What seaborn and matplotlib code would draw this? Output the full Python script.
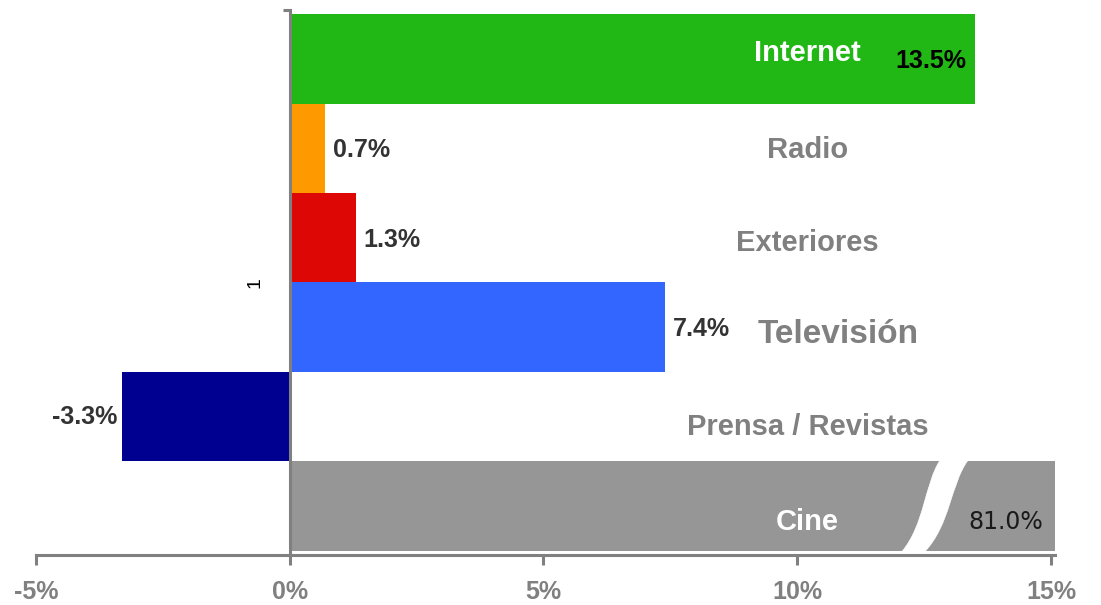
import matplotlib
matplotlib.use("Agg")
import matplotlib.pyplot as plt
from matplotlib.path import Path
from matplotlib.patches import PathPatch
import seaborn as sns

# Growth of advertising investment by medium (%)
categories = ["Internet", "Radio", "Exteriores", "Televisión", "Prensa / Revistas", "Cine"]
growth = [13.5, 0.7, 1.3, 7.4, -3.3, 81.0]
value_labels = ["13.5%", "0.7%", "1.3%", "7.4%", "-3.3%", "81.0%"]
bar_colors = ["#21B714", "#FF9900", "#DD0806", "#3366FF", "#000090", "#969696"]
x_ticks = [-5, 0, 5, 10, 15]
x_tick_labels = ["-5%", "0%", "5%", "10%", "15%"]

sns.set_theme(style="white")
plt.rcParams["font.family"] = ["Liberation Sans", "DejaVu Sans"]

AXIS_GREY = "#808080"

fig = plt.figure(figsize=(11.01, 6.05), dpi=100)
ax = fig.add_axes([36 / 1101, 50 / 605, (1055 - 36) / 1101, 545 / 605])

sns.barplot(x=growth, y=categories, hue=categories, palette=bar_colors,
            legend=False, width=1.0, orient="h", saturation=1,
            linewidth=0, ax=ax, zorder=2)

x_max = 15.08
ax.set_xlim(-5, x_max)
ax.set_ylim(len(categories) - 0.5 + 0.045, -0.5 - 0.045)

# axes styling
for side in ("top", "right"):
    ax.spines[side].set_visible(False)
ax.spines["left"].set_position(("data", 0))
for side in ("left", "bottom"):
    ax.spines[side].set_color(AXIS_GREY)
    ax.spines[side].set_linewidth(2.2)
    ax.spines[side].set_zorder(3)

ax.set_xticks(x_ticks)
ax.set_xticklabels(x_tick_labels, fontsize=18, fontweight="bold", color=AXIS_GREY)
ax.tick_params(axis="x", direction="out", length=7, width=2.2, color=AXIS_GREY, pad=11,
               bottom=True)
ax.set_yticks([-0.5 - 0.045])
ax.set_yticklabels([""])
ax.tick_params(axis="y", direction="out", length=5, width=2.2, color=AXIS_GREY, left=True)
ax.set_xlabel("")
ax.set_ylabel("")
ax.grid(False)

# category axis label (single group)
ax.text(-0.69, 0.5, "1", rotation=90, fontsize=14, color="black",
        ha="center", va="center", transform=ax.get_xaxis_transform())

# wavy break marker on the clipped Cine bar
cine = categories.index("Cine")
top, bot = cine - 0.5, cine + 0.5
verts = [
    (12.81, top - 0.01),
    (12.51, top + 0.257), (12.51, top + 0.704), (12.06, bot + 0.01),
    (12.51, bot + 0.01),
    (13.02, top + 0.704), (13.02, top + 0.257), (13.36, top - 0.01),
    (12.81, top - 0.01),
]
codes = [Path.MOVETO,
         Path.CURVE4, Path.CURVE4, Path.CURVE4,
         Path.LINETO,
         Path.CURVE4, Path.CURVE4, Path.CURVE4,
         Path.CLOSEPOLY]
ax.add_patch(PathPatch(Path(verts, codes), facecolor="white", edgecolor="white",
                       lw=0.5, zorder=2.5))

# value labels
for i, (v, lab) in enumerate(zip(growth, value_labels)):
    name = categories[i]
    if name == "Cine":
        ax.text(14.1, i + 0.18, lab, fontsize=17, color="#1a1a1a",
                family="DejaVu Sans", ha="center", va="center", zorder=4)
    elif name == "Internet":
        ax.text(v - 0.16, i + 0.03, lab, fontsize=18, fontweight="bold",
                color="black", ha="right", va="center", zorder=4)
    elif v < 0:
        ax.text(v - 0.1, i, lab, fontsize=18, fontweight="bold",
                color="#333333", ha="right", va="center", zorder=4)
    else:
        ax.text(v + 0.15, i + 0.02, lab, fontsize=18, fontweight="bold",
                color="#333333", ha="left", va="center", zorder=4)

# category names on the right side
name_offsets = [-0.07, 0.02, 0.06, 0.08, 0.12, 0.18]
for i, name in enumerate(categories):
    on_bar = name in ("Internet", "Cine")
    size = 24 if name == "Televisión" else 21
    xpos = 10.8 if name == "Televisión" else 10.2
    ax.text(xpos, i + name_offsets[i], name, fontsize=size, fontweight="bold",
            color="white" if on_bar else AXIS_GREY, ha="center", va="center", zorder=4)

fig.savefig("out.png", dpi=100, facecolor="white")
